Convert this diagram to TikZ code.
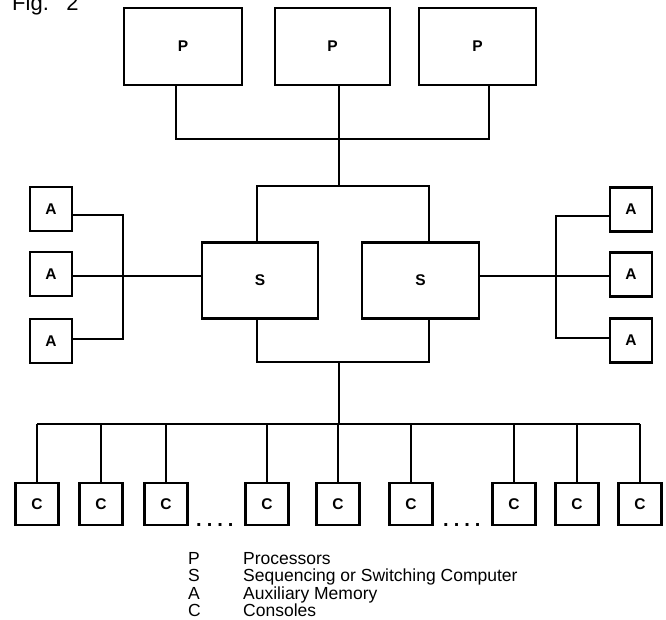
\documentclass[tikz,border=0pt]{standalone}
\usepackage{fontspec}
\setmainfont{Liberation Sans}
\begin{document}
\begin{tikzpicture}[x=1pt,y=-1pt,
  box/.style={draw, line width=2.3pt, inner sep=0pt, font=\fontsize{15.5}{18}\selectfont\bfseries},
  pbox/.style={box, minimum height=77pt},
  sbox/.style={box, minimum height=76pt},
  abox/.style={box, minimum width=42pt, minimum height=44pt},
  cbox/.style={box, minimum width=43pt, minimum height=42pt},
  wire/.style={line width=1.8pt},
  legend/.style={anchor=base west, inner sep=0pt, font=\fontsize{17.5}{21}\selectfont},
  dots/.style={anchor=base west, inner sep=0pt, font=\fontsize{20}{24}\selectfont\bfseries}]
\useasboundingbox (0,0) rectangle (666,620);

% title (cut at the top edge as in the reference)
\node[anchor=base west, inner sep=0pt, font=\fontsize{22}{26}\selectfont] (fig) at (12,11) {Fig.\hspace{0.8em}2};

% processors
\node[pbox, minimum width=118pt] (P1) at (183,46.5) {P};
\node[pbox, minimum width=115pt] (P2) at (332.5,46.5) {P};
\node[pbox, minimum width=117pt] (P3) at (477.5,46.5) {P};

% switching computers
\node[sbox, minimum width=116pt] (S1) at (260,280.5) {S};
\node[sbox, minimum width=117pt] (S2) at (420.5,280.5) {S};

% auxiliary memories
\node[abox] (AL1) at (51,209) {A};
\node[abox] (AL2) at (51,274) {A};
\node[abox] (AL3) at (51,341) {A};
\node[abox] (AR1) at (631,209.5) {A};
\node[abox] (AR2) at (631,274.5) {A};
\node[abox] (AR3) at (631,340.5) {A};

% consoles
\foreach \i/\x in {1/37,2/101,3/166,4/267,5/338,6/411,7/514,8/577,9/640}
  \node[cbox] (C\i) at (\x,504) {C};

% ellipses
\node[dots] (d1) at (196,526) {.\hspace{5pt}.\hspace{5pt}.\hspace{5pt}.};
\node[dots] (d2) at (443,526) {.\hspace{5pt}.\hspace{5pt}.\hspace{5pt}.};

% junction coordinates
\coordinate (pj1) at (176,139);
\coordinate (pj2) at (339,139);
\coordinate (pj3) at (489,139);
\coordinate (tj) at (339,186);
\coordinate (sl) at (257,186);
\coordinate (sr) at (429,186);
\coordinate (bl) at (257,362);
\coordinate (br) at (429,362);
\coordinate (bj) at (339,362);
\coordinate (cj) at (339,424);
\coordinate (la) at (123,215);
\coordinate (lm) at (123,276);
\coordinate (lb) at (123,339);
\coordinate (ra) at (556,216);
\coordinate (rm) at (556,276);
\coordinate (rb) at (556,338);

% connectors
\draw[wire] (P1.south -| pj1) -- (pj1) -- (pj3) -- (P3.south -| pj3);
\draw[wire] (P2.south -| pj2) -- (pj2) -- (tj);
\draw[wire] (S1.north -| sl) -- (sl) -- (sr) -- (S2.north -| sr);
\draw[wire] (S1.south -| bl) -- (bl) -- (br) -- (S2.south -| br);
\draw[wire] (bj) -- (cj);
\draw[wire] (la -| AL1.east) -- (la) -- (lb) -- (lb -| AL3.east);
\draw[wire] (lm -| AL2.east) -- (lm -| S1.west);
\draw[wire] (ra -| AR1.west) -- (ra) -- (rb) -- (rb -| AR3.west);
\draw[wire] (rm -| AR2.west) -- (rm -| S2.east);
\draw[wire] (C1.north |- cj) -- (C9.north |- cj);
\foreach \i in {1,...,9}
  \draw[wire] (C\i.north |- cj) -- (C\i.north);

% legend
\node[legend] (lp)  at (188,564) {P};
\node[legend] (lpt) at (243,564) {Processors};
\node[legend] (ls)  at (188,581.5) {S};
\node[legend] (lst) at (243,581.5) {Sequencing or Switching Computer};
\node[legend] (la1) at (188,599) {A};
\node[legend] (lat) at (243,599) {Auxiliary Memory};
\node[legend] (lc)  at (188,616.5) {C};
\node[legend] (lct) at (243,616.5) {Consoles};
\end{tikzpicture}
\end{document}
